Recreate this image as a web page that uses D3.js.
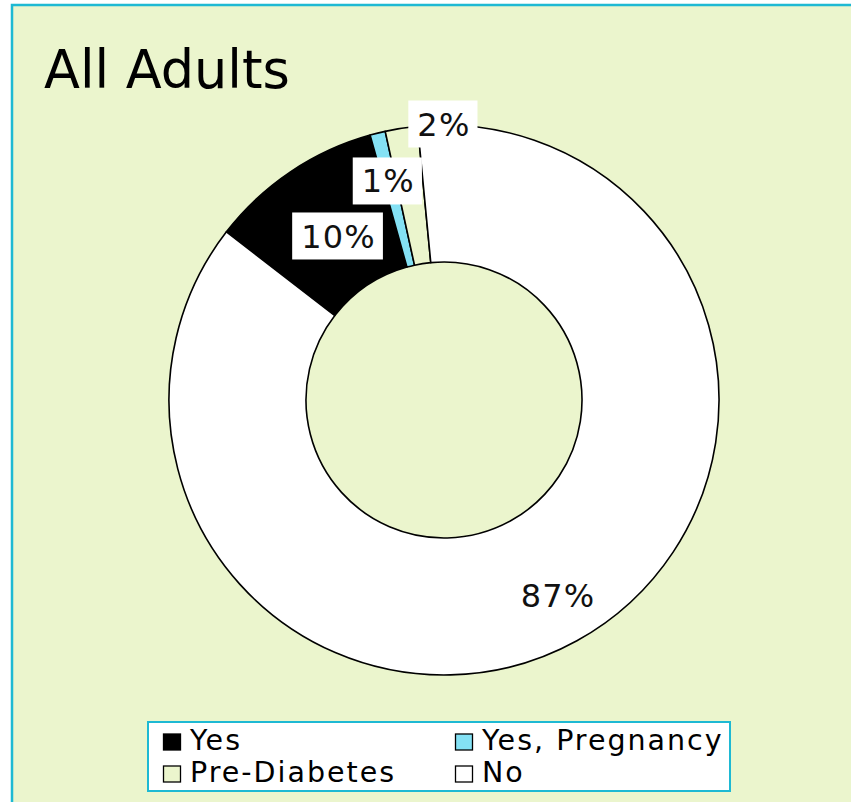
<html>
<head>
	<meta charset="UTF-8">
	<title>All Adults</title>
	<script src="https://cdn.jsdelivr.net/npm/d3@7"></script>
	<style>
		body {
			padding: 0;
			margin: 0;
			background: #ffffff;
		}
	</style>
</head>
<body>
	<script>
		// data
		var categories = ["Yes", "Yes, Pregnancy", "Pre-Diabetes", "No"];
		var values = [10.2, 0.9, 1.9, 87.0];
		var labels = ["10%", "1%", "2%", "87%"];
		var colors = ["#000000", "#84e1f4", "#ebf5cd", "#ffffff"];

		var w = 851,
			h = 802,
			cx = 444,
			cy = 400,
			outerR = 275,
			innerR = 138;

		// label placement: radius and angle nudge (deg) per slice
		var labelRadius = [195, 226, 276, 226];
		var labelShift = [1.2, -0.3, 8.9, -1.4];

		var svg = d3.select("body").append("svg")
			.attr("width", w)
			.attr("height", h);

		// chart area with cyan border
		svg.append("rect")
			.attr("x", 12)
			.attr("y", 5)
			.attr("width", w)
			.attr("height", h)
			.attr("fill", "#ebf5cd")
			.attr("stroke", "#1eb9d3")
			.attr("stroke-width", 2.5);

		svg.append("text")
			.attr("x", 44)
			.attr("y", 88)
			.attr("font-family", "DejaVu Sans, Verdana, sans-serif")
			.attr("font-size", 52.5)
			.attr("fill", "#000")
			.text("All Adults");

		var deg = Math.PI / 180;
		var pie = d3.pie()
			.sort(null)
			.startAngle(307.7 * deg)
			.endAngle(307.7 * deg + 2 * Math.PI);

		var arc = d3.arc()
			.innerRadius(innerR)
			.outerRadius(outerR);

		var arcs = pie(values);

		var g = svg.append("g")
			.attr("transform", "translate(" + cx + "," + cy + ")");

		g.selectAll("path.slice")
			.data(arcs)
			.enter().append("path")
			.attr("class", "slice")
			.attr("d", arc)
			.attr("fill", function (d, i) { return colors[i]; })
			.attr("stroke", "#000")
			.attr("stroke-width", 1.6)
			.attr("stroke-linejoin", "round");

		// data labels with white boxes
		var lab = g.selectAll("g.lab")
			.data(arcs)
			.enter().append("g")
			.attr("class", "lab")
			.attr("transform", function (d, i) {
				var a = (d.startAngle + d.endAngle) / 2 + labelShift[i] * deg;
				var r = labelRadius[i];
				return "translate(" + (r * Math.sin(a)) + "," + (-r * Math.cos(a)) + ")";
			});

		lab.append("rect").attr("fill", "#fff");
		lab.append("text")
			.attr("text-anchor", "middle")
			.attr("dy", "0.36em")
			.attr("font-family", "DejaVu Sans, Verdana, sans-serif")
			.attr("font-size", 32)
			.attr("letter-spacing", 1.2)
			.attr("fill", "#111")
			.text(function (d, i) { return labels[i]; });

		lab.each(function () {
			var t = d3.select(this).select("text").node().getBBox();
			d3.select(this).select("rect")
				.attr("x", t.x - 9)
				.attr("y", -23.5)
				.attr("width", t.width + 16)
				.attr("height", 47);
		});

		// legend
		var legend = svg.append("g");
		legend.append("rect")
			.attr("x", 148)
			.attr("y", 722)
			.attr("width", 582)
			.attr("height", 69)
			.attr("fill", "#fff")
			.attr("stroke", "#1eb9d3")
			.attr("stroke-width", 2);

		var colX = [163, 455],
			rowY = [750, 782];

		var item = legend.selectAll("g.item")
			.data(categories)
			.enter().append("g")
			.attr("class", "item")
			.attr("transform", function (d, i) {
				return "translate(" + colX[i % 2] + "," + rowY[Math.floor(i / 2)] + ")";
			});

		item.append("rect")
			.attr("x", 0.5)
			.attr("y", -16)
			.attr("width", 17)
			.attr("height", 16)
			.attr("fill", function (d, i) { return colors[i]; })
			.attr("stroke", "#000")
			.attr("stroke-width", 1.3);

		item.append("text")
			.attr("x", 27)
			.attr("y", 0)
			.attr("font-family", "DejaVu Sans, Verdana, sans-serif")
			.attr("font-size", 28.5)
			.attr("letter-spacing", 2)
			.attr("fill", "#000")
			.text(function (d) { return d; });
	</script>
</body>
</html>
